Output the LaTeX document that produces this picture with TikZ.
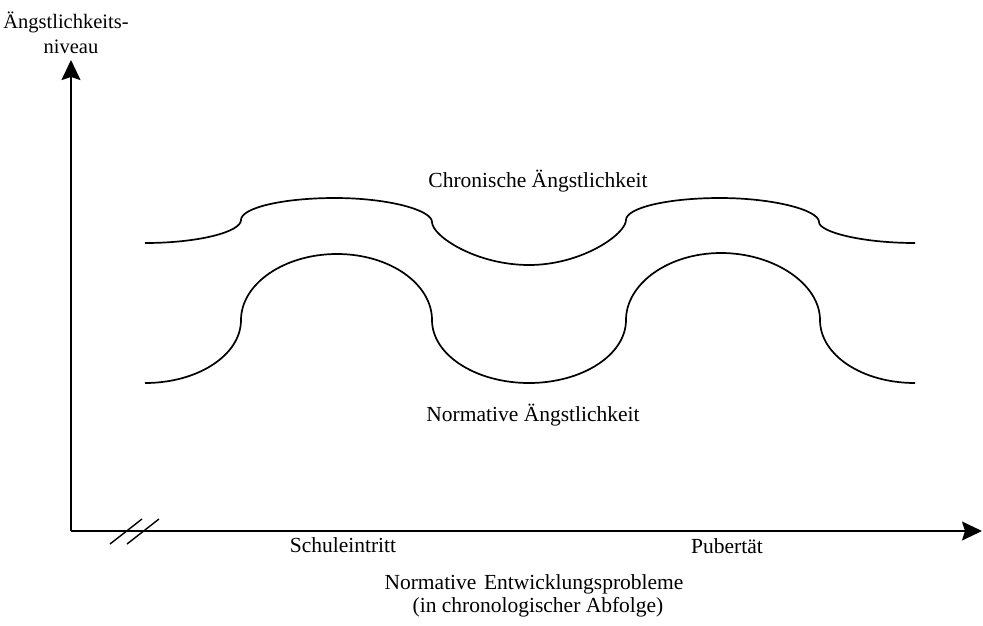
\documentclass[tikz,border=0pt]{standalone}
\usepackage{fontspec}
\setmainfont{Liberation Serif}
\usetikzlibrary{arrows.meta}
\begin{document}
\begin{tikzpicture}[x=1pt,y=-1pt,
  axis/.style={line width=1.5pt,-{Stealth[length=20pt,width=19pt,inset=3pt]}},
  curve/.style={line width=1.7pt},
  brk/.style={line width=1.4pt},
  lbl/.style={anchor=base,inner sep=0pt,font=\fontsize{21.5}{24}\selectfont},
  ylbl/.style={anchor=base,inner sep=0pt,font=\fontsize{20.5}{23}\selectfont}]
\useasboundingbox (0,0) rectangle (983,625);
\coordinate (O) at (71,531);
\coordinate (ytip) at (71,60);
\coordinate (xtip) at (982,531);
\draw[axis] (O) -- (ytip);
\draw[axis] (O) -- (xtip);
% break marks
\coordinate (b1a) at (110,544); \coordinate (b1b) at (142,519);
\coordinate (b2a) at (127,544); \coordinate (b2b) at (159,519);
\draw[brk] (b1a) -- (b1b);
\draw[brk] (b2a) -- (b2b);
% chronic anxiety curve
\draw[curve] (145,243)
  .. controls (198,243) and (241,232) .. (241,220)
  .. controls (241,208) and (282,198) .. (335,198)
  .. controls (388,198) and (432,210) .. (432,222)
  .. controls (432,236) and (476,265) .. (529,265)
  .. controls (582,265) and (626,234) .. (626,220)
  .. controls (626,208) and (667,198) .. (720,198)
  .. controls (773,198) and (819,210) .. (819,222)
  .. controls (819,232) and (862,243) .. (915,243);
% normative anxiety curve
\draw[curve] (145,383)
  .. controls (198,383) and (241,355) .. (241,320)
  .. controls (241,284) and (284,254) .. (337,254)
  .. controls (390,254) and (432,284) .. (432,320)
  .. controls (432,355) and (476,383) .. (529,383)
  .. controls (582,383) and (626,355) .. (626,320)
  .. controls (626,284) and (668,253) .. (721,253)
  .. controls (774,253) and (820,284) .. (820,320)
  .. controls (820,355) and (862,383) .. (915,383);
% labels
\node[ylbl] (yl1) at (66,28) {Ängstlichkeits-};
\node[ylbl] (yl2) at (71,53) {niveau};
\node[lbl] (chron) at (538,187) {Chronische Ängstlichkeit};
\node[lbl] (norm) at (533,421) {Normative Ängstlichkeit};
\node[lbl] (schul) at (343,552) {Schuleintritt};
\node[lbl] (pub) at (727,553) {Pubertät};
\node[lbl] (x1) at (534,589) {Normative\hspace{0.35em}Entwicklungsprobleme};
\node[lbl] (x2) at (538,612) {(in chronologischer Abfolge)};
\end{tikzpicture}
\end{document}
